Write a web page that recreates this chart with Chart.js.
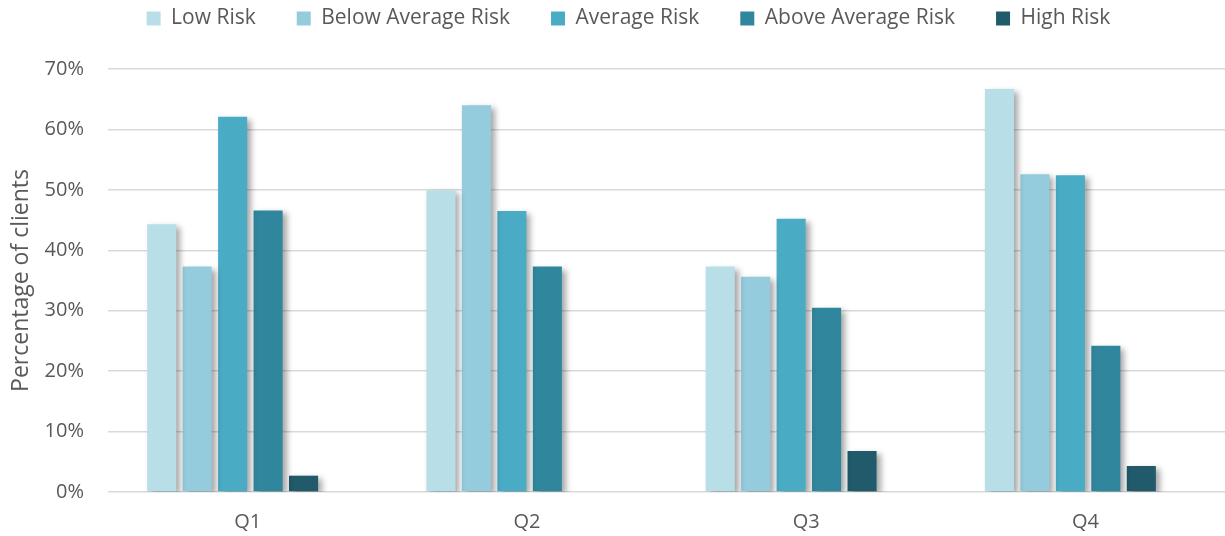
<!DOCTYPE html>
<html>
<head>
<meta charset="utf-8">
<script src="https://cdn.jsdelivr.net/npm/chart.js@4"></script>
<style>
  html, body { margin: 0; padding: 0; background: #fff; }
  #wrap { width: 1225px; height: 536px; }
</style>
</head>
<body>
<div id="wrap"><canvas id="riskChart" width="1225" height="536"></canvas></div>
<script>
// Quarters and risk groups
const quarters = ['Q1', 'Q2', 'Q3', 'Q4'];
const riskNames = ['Low Risk', 'Below Average Risk', 'Average Risk', 'Above Average Risk', 'High Risk'];

// Percentage of clients per risk group
const lowRisk = [44.3, 49.9, 37.3, 66.7];
const belowAvgRisk = [37.3, 64.0, 35.6, 52.6];
const avgRisk = [62.1, 46.5, 45.2, 52.4];
const aboveAvgRisk = [46.6, 37.3, 30.5, 24.2];
const highRisk = [2.7, 0, 6.8, 4.3];

const yTicks = [0, 10, 20, 30, 40, 50, 60, 70];

const colors = ['#B8DEE8', '#94CBDD', '#4AABC5', '#30869D', '#215A6A'];
const seriesValues = [lowRisk, belowAvgRisk, avgRisk, aboveAvgRisk, highRisk];

const ctx = document.getElementById('riskChart').getContext('2d');

// soft drop shadow under the bars, groups sit a bit left of the labels
const barShadow = {
    id: 'barShadow',
    beforeDatasetsDraw(chart) {
        const c = chart.ctx;
        c.save();
        c.translate(-15, 0);
        c.shadowColor = 'rgba(0, 0, 0, 0.35)';
        c.shadowOffsetX = 4;
        c.shadowOffsetY = 3;
        c.shadowBlur = 6;
    },
    afterDatasetsDraw(chart) {
        chart.ctx.restore();
    }
};

// more room between legend and plot, legend nudged right
const legendGap = {
    id: 'legendGap',
    beforeInit(chart) {
        const fit = chart.legend.fit;
        chart.legend.fit = function () {
            fit.bind(chart.legend)();
            this.height += 30;
        };
    },
    afterLayout(chart) {
        chart.legend.left += 16;
        chart.legend.right += 16;
    }
};

const data = {
    labels: quarters,
    datasets: riskNames.map((name, i) => ({
        label: name,
        data: seriesValues[i],
        backgroundColor: colors[i],
        borderWidth: 0,
        categoryPercentage: 0.635,
        barPercentage: 0.82
    }))
};

const options = {
    responsive: false,
    animation: false,
    layout: { padding: { top: -33, right: 0, bottom: -8, left: 0 } },
    plugins: {
        legend: {
            position: 'top',
            labels: {
                boxWidth: 14,
                boxHeight: 14,
                padding: 41,
                color: '#595959',
                font: { family: 'Open Sans', size: 21 }
            }
        },
        tooltip: { enabled: false }
    },
    scales: {
        x: {
            grid: { display: false },
            border: { display: false },
            ticks: {
                color: '#595959',
                font: { family: 'Open Sans', size: 20 },
                padding: 10
            }
        },
        y: {
            min: 0,
            max: 70,
            afterBuildTicks(axis) {
                axis.ticks = yTicks.map(v => ({ value: v }));
            },
            grid: { color: '#D9D9D9', lineWidth: 1.5, drawTicks: false },
            border: { display: false },
            ticks: {
                color: '#595959',
                font: { family: 'Open Sans', size: 20 },
                padding: 24,
                callback: v => v + '%'
            },
            title: {
                display: true,
                text: 'Percentage of clients',
                color: '#595959',
                font: { family: 'Open Sans', size: 23 },
                padding: { top: 8, bottom: -15 }
            }
        }
    }
};

new Chart(ctx, {
    type: 'bar',
    data,
    options,
    plugins: [barShadow, legendGap]
});
</script>
</body>
</html>
